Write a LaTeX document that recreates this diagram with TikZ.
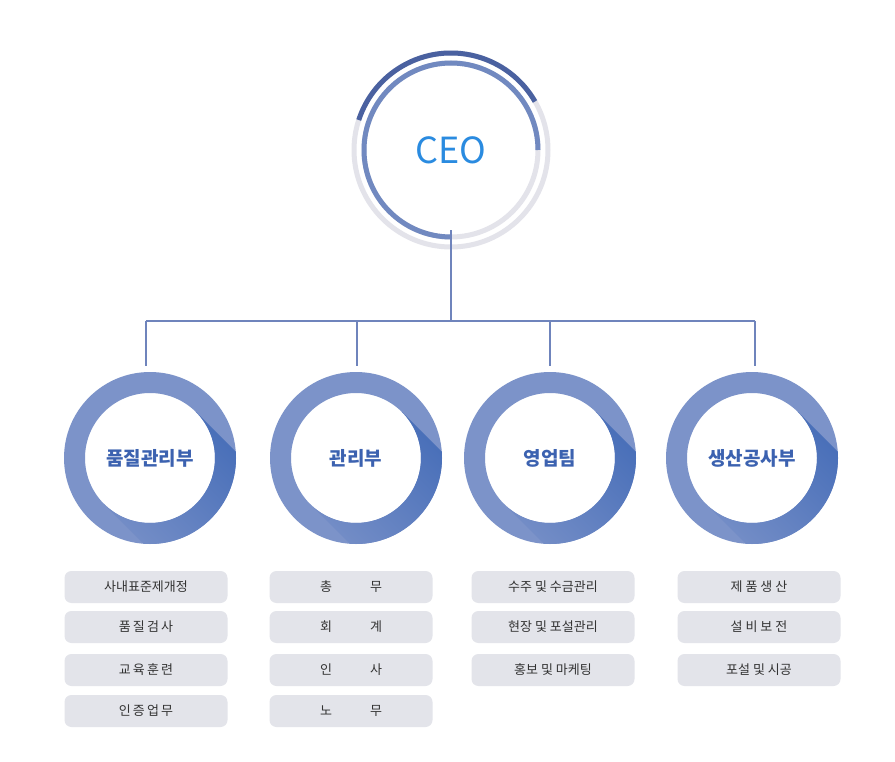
\documentclass[tikz,border=0pt]{standalone}
\usepackage{fontspec}
\setmainfont{Noto Sans CJK KR}
\definecolor{ringgray}{HTML}{E3E3EA}
\definecolor{darkarc}{HTML}{4A61A0}
\definecolor{midarc}{HTML}{7189C0}
\definecolor{dept}{HTML}{7C93C9}
\definecolor{deptdark}{HTML}{4069B6}
\definecolor{depttext}{HTML}{3C62B0}
\definecolor{boxfill}{HTML}{E3E4EA}
\definecolor{linec}{HTML}{6F84BC}
\definecolor{ceotext}{HTML}{2A8BE0}
\tikzset{
  conn/.style={draw=linec, line width=1.6pt},
  itembox/.style={rounded corners=7pt, fill=boxfill, minimum width=163pt, minimum height=32pt, inner sep=0pt, font=\fontsize{13}{15}\selectfont, text=black!80},
  deptlabel/.style={font=\fontsize{19}{22}\selectfont\bfseries, text=depttext},
}
\newcommand{\deptring}[3]{%
  \fill[dept, even odd rule] (#1,#2) circle (86) (#1,#2) circle (65);
  \begin{scope}[even odd rule]
    \clip (#1,#2) circle (86) (#1,#2) circle (65);
    \shade[top color=deptdark, bottom color=dept, shading angle=-45]
      ({#1+46},{#2-46}) -- ({#1+146},{#2+54}) -- ({#1+54},{#2+146}) -- ({#1-46},{#2+46}) -- cycle;
  \end{scope}
  \node[circle, minimum size=128pt, inner sep=0pt, deptlabel] (#3) at (#1,#2) {};
}
\begin{document}
\begin{tikzpicture}[x=1pt,y=-1pt]
\useasboundingbox[fill=white] (0,0) rectangle (895,762);
% CEO rings
\draw[ringgray, line width=5pt] (451,150) circle (97);
\draw[darkarc, line width=5pt] (451,150) ++(-30:97) arc[start angle=-30, end angle=-162, radius=97];
\draw[ringgray, line width=5pt] (451,150) circle (87);
\draw[midarc, line width=5pt] (451,150) ++(0:87) arc[start angle=0, end angle=-270, radius=87];
\node[circle, minimum size=160pt, inner sep=0pt, font=\fontsize{36}{40}\selectfont, text=ceotext] (ceo) at (451,150) {CEO};
% department rings
\deptring{150}{458}{d1}
\deptring{356}{458}{d2}
\deptring{550}{458}{d3}
\deptring{752}{458}{d4}
\node[deptlabel] at (d1) {품질관리부};
\node[deptlabel] at (d2) {관리부};
\node[deptlabel] at (d3) {영업팀};
\node[deptlabel] at (d4) {생산공사부};
% connectors
\coordinate (bus) at (451,321);
\coordinate (b1) at (146,321);
\coordinate (b2) at (357,321);
\coordinate (b3) at (550,321);
\coordinate (b4) at (755,321);
\coordinate (t1) at (146,366);
\coordinate (t2) at (357,366);
\coordinate (t3) at (550,366);
\coordinate (t4) at (755,366);
\draw[conn] (ceo.south) -- (bus);
\draw[conn] (b1) -- (b4);
\draw[conn] (b1) -- (t1);
\draw[conn] (b2) -- (t2);
\draw[conn] (b3) -- (t3);
\draw[conn] (b4) -- (t4);
% items
\node[itembox] (a1) at (146,587) {사내표준제개정};
\node[itembox] (a2) at (146,627) {품\,질\,검\,사};
\node[itembox] (a3) at (146,670) {교\,육\,훈\,련};
\node[itembox] (a4) at (146,711) {인\,증\,업\,무};
\node[itembox] (b1n) at (351,587) {총\hspace{38pt}무};
\node[itembox] (b2n) at (351,627) {회\hspace{38pt}계};
\node[itembox] (b3n) at (351,670) {인\hspace{38pt}사};
\node[itembox] (b4n) at (351,711) {노\hspace{38pt}무};
\node[itembox] (c1) at (553,587) {수주 및 수금관리};
\node[itembox] (c2) at (553,627) {현장 및 포설관리};
\node[itembox] (c3) at (553,670) {홍보 및 마케팅};
\node[itembox] (e1) at (759,587) {제 품 생 산};
\node[itembox] (e2) at (759,627) {설 비 보 전};
\node[itembox] (e3) at (759,670) {포설 및 시공};
\end{tikzpicture}
\end{document}
